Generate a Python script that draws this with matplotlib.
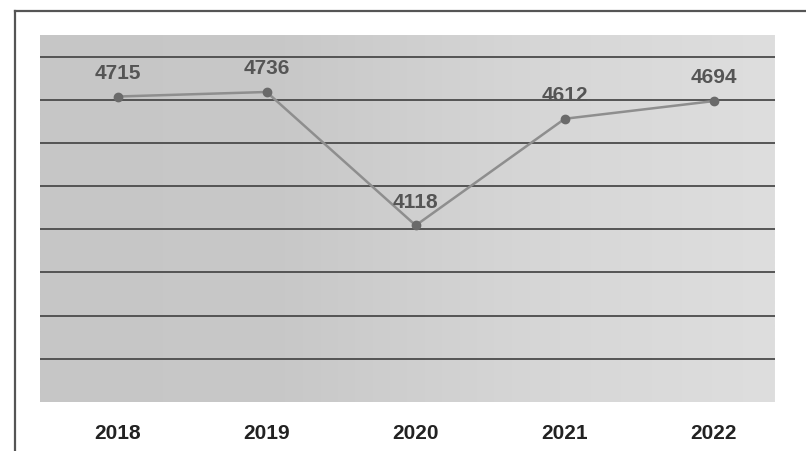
import numpy as np
import matplotlib.pyplot as plt
from matplotlib.lines import Line2D

# values
years = ['2018', '2019', '2020', '2021', '2022']
values = [4715, 4736, 4118, 4612, 4694]
grid_ticks = [3500, 3700, 3900, 4100, 4300, 4500, 4700, 4900]

plt.rcParams['font.family'] = ['Liberation Sans', 'DejaVu Sans']

fig = plt.figure(figsize=(8.06, 4.51), dpi=100)
fig.patch.set_facecolor('white')

# outer frame of the scanned page (top and left edges only)
fig.add_artist(Line2D([15 / 806, 1.0], [1 - 11 / 451, 1 - 11 / 451],
                      color='#555555', lw=1.6, transform=fig.transFigure))
fig.add_artist(Line2D([15 / 806, 15 / 806], [0.0, 1 - 11 / 451],
                      color='#555555', lw=1.6, transform=fig.transFigure))

ax = fig.add_axes([40 / 806, 1 - 402 / 451, 735 / 806, 367 / 451])
x = np.arange(len(years))
ax.set_xlim(-0.52, 4.41)
ax.set_ylim(3300, 5000)

# grey plot area, lighter towards the right like the scan
grad = np.linspace(0.0, 1.0, 256).reshape(1, -1)
ax.imshow(grad, cmap=plt.matplotlib.colors.LinearSegmentedColormap.from_list(
    'bg', ['#c6c6c6', '#c8c8c8', '#d6d6d6', '#dedede']),
    extent=[-0.52, 4.41, 3300, 5000], aspect='auto', zorder=0)

for g in grid_ticks:
    ax.axhline(g, color='#4a4a4a', lw=1.3, zorder=1)

ax.plot(x, values, color='#8e8e8e', lw=1.8, marker='o', markersize=6,
        markerfacecolor='#6a6a6a', markeredgecolor='#6a6a6a', zorder=3)

for xi, v in zip(x, values):
    ax.annotate(str(v), (xi, v), xytext=(0, 10), textcoords='offset points',
                ha='center', va='bottom', fontsize=15, fontweight='bold',
                color='#555555', zorder=4)

ax.set_xticks(x)
ax.set_xticklabels(years, fontsize=15, fontweight='bold', color='#222222')
ax.tick_params(axis='x', length=0, pad=16)
ax.set_yticks([])
for s in ax.spines.values():
    s.set_visible(False)

fig.savefig('out.png', dpi=100)
